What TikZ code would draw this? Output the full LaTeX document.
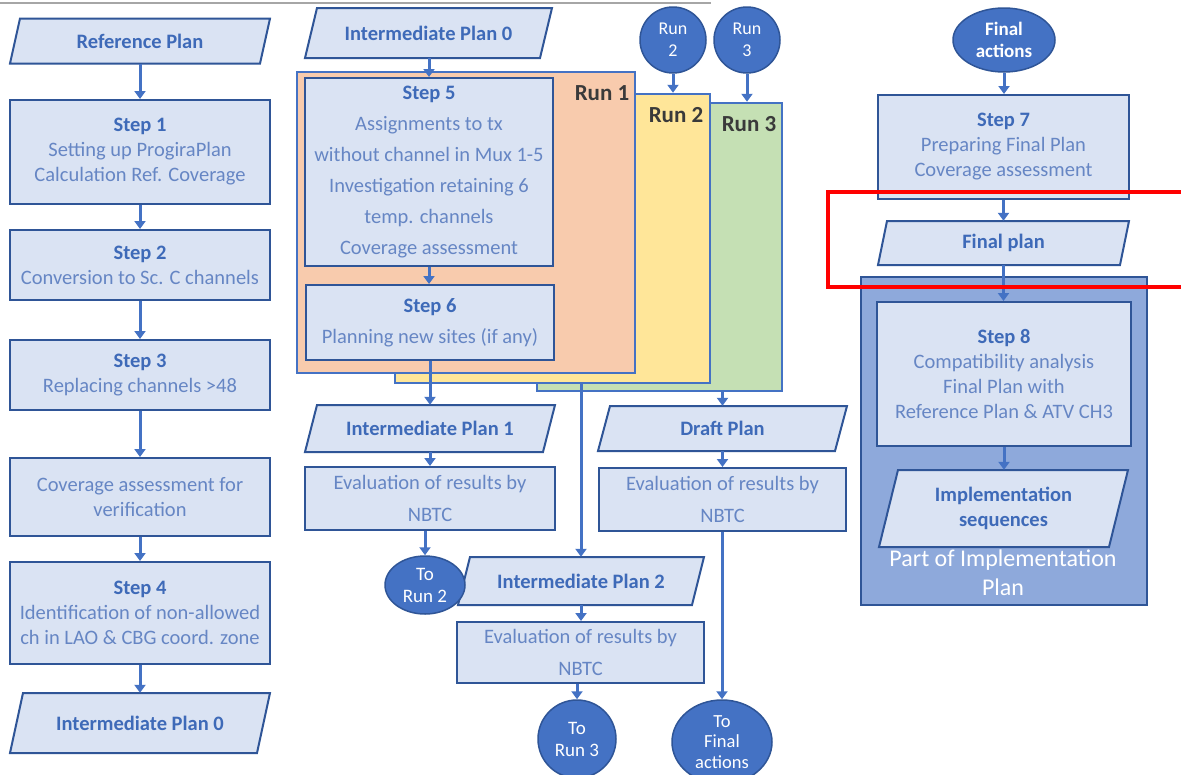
\documentclass[tikz,border=0pt]{standalone}
\usepackage{fontspec}
\setmainfont{Carlito}
\usetikzlibrary{arrows.meta,shapes.geometric}
\definecolor{boxfill}{HTML}{DAE3F3}
\definecolor{boxline}{HTML}{2F5597}
\definecolor{titlec}{HTML}{3E6AB8}
\definecolor{bodyc}{HTML}{6686C4}
\definecolor{arrowc}{HTML}{4472C4}
\definecolor{circfill}{HTML}{4472C4}
\definecolor{runone}{HTML}{F8CBAD}
\definecolor{runtwo}{HTML}{FFE699}
\definecolor{runthree}{HTML}{C5E0B4}
\definecolor{implfill}{HTML}{8EA9DB}
\definecolor{runtext}{HTML}{3A3A3A}
\newcommand{\ttl}[1]{{\bfseries\color{titlec}#1}}
\newcommand{\mypara}[7]{%
  \filldraw[parashape] ({#2-#4/2+#6},{#3-#5/2}) -- ({#2+#4/2},{#3-#5/2}) -- ({#2+#4/2-#6},{#3+#5/2}) -- ({#2-#4/2},{#3+#5/2}) -- cycle;
  \node[paratext, minimum width={#4-#6}, minimum height=#5] (#1) at (#2,#3) {#7};
}
\tikzset{
  stepbox/.style={draw=boxline, fill=boxfill, line width=2, inner sep=0, align=center, text=bodyc, font=\fontsize{20.5}{25}\selectfont},
  parashape/.style={draw=boxline, fill=boxfill, line width=2},
  paratext/.style={inner sep=0, align=center, text=titlec, font=\fontsize{20.5}{25}\selectfont\bfseries},
  runbox/.style={draw=arrowc, line width=2.5, inner sep=0},
  runlabel/.style={text=runtext, font=\fontsize{23}{26}\selectfont\bfseries, inner sep=0},
  termc/.style={circle, draw=boxline, fill=circfill, line width=1.5, inner sep=0, align=center, text=white, font=\fontsize{18}{22}\selectfont},
  terme/.style={ellipse, draw=boxline, fill=circfill, line width=1.5, inner sep=0, align=center, text=white, font=\fontsize{19}{22}\selectfont},
  flow/.style={draw=arrowc, line width=3, -{Triangle[length=8,width=11]}},
}
\begin{document}
\begin{tikzpicture}[x=1pt,y=-1pt]
\useasboundingbox (0,0) rectangle (1181,774);
\fill[white] (0,0) rectangle (1181,774);
\draw[black!35, line width=1.5] (0,3) -- (711,3);

% ---------- left column ----------
\mypara{refplan}{140}{41}{260}{45}{10}{Reference Plan}
\node[stepbox, minimum width=260, minimum height=104] (step1) at (140,152) {\ttl{Step 1}\\Setting up ProgiraPlan\\Calculation Ref. Coverage};
\node[stepbox, minimum width=260, minimum height=70] (step2) at (140,265) {\ttl{Step 2}\\Conversion to Sc. C channels};
\node[stepbox, minimum width=260, minimum height=70] (step3) at (140,375) {\ttl{Step 3}\\Replacing channels {>}48};
\node[stepbox, minimum width=260, minimum height=78] (cov) at (140,497) {Coverage assessment for\\verification};
\node[stepbox, minimum width=260, minimum height=102] (step4) at (140,613) {\ttl{Step 4}\\Identification of non-allowed\\ch in LAO \& CBG coord. zone};
\mypara{ipzerob}{140}{723}{260}{60}{13}{Intermediate Plan 0}

\draw[flow] (refplan.south) -- (step1.north);
\draw[flow] (step1.south) -- (step2.north);
\draw[flow] (step2.south) -- (step3.north);
\draw[flow] (step3.south) -- (cov.north);
\draw[flow] (cov.south) -- (step4.north);
\draw[flow] (step4.south) -- (ipzerob.north);

% ---------- middle column ----------
\node[runbox, fill=runthree, minimum width=245, minimum height=288] (r3) at (659.5,247) {};
\node[runbox, fill=runtwo, minimum width=315, minimum height=289] (r2) at (552.5,238.5) {};
\node[runbox, fill=runone, minimum width=338, minimum height=301] (r1) at (466,222.5) {};
\node[runlabel] (lab1) at (602,93) {Run 1};
\node[runlabel] (lab2) at (676,115) {Run 2};
\node[runlabel] (lab3) at (749,124) {Run 3};

\node[termc, minimum size=66] (runtwoc) at (673,40) {Run\\2};
\node[termc, minimum size=66] (runthreec) at (747,40) {Run\\3};

\mypara{ipzeroa}{428.5}{33}{247}{50}{12}{Intermediate Plan 0}
\node[stepbox, minimum width=248, minimum height=188, font=\fontsize{20.5}{31}\selectfont] (step5) at (429,172) {\ttl{Step 5}\\Assignments to tx\\without channel in Mux 1-5\\Investigation retaining 6\\temp. channels\\Coverage assessment};
\node[stepbox, minimum width=248, minimum height=75, font=\fontsize{20.5}{31}\selectfont] (step6) at (430,322.5) {\ttl{Step 6}\\Planning new sites (if any)};

\mypara{ipone}{430}{428.5}{250}{47}{12}{Intermediate Plan 1}
\node[stepbox, minimum width=250, minimum height=63, font=\fontsize{20.5}{32}\selectfont] (evone) at (430,498.5) {Evaluation of results by\\NBTC};
\mypara{iptwo}{581}{581}{246}{48}{12}{Intermediate Plan 2}
\node[stepbox, minimum width=247, minimum height=61, font=\fontsize{20.5}{32}\selectfont] (evtwo) at (580.5,652.5) {Evaluation of results by\\NBTC};
\mypara{draft}{722.5}{428.5}{249}{45}{12}{Draft Plan}
\node[stepbox, minimum width=247, minimum height=63, font=\fontsize{20.5}{32}\selectfont] (evthree) at (722.5,499.5) {Evaluation of results by\\NBTC};

\node[terme, minimum width=80, minimum height=58] (torun2) at (425,585) {To\\Run 2};
\node[termc, minimum size=78, font=\fontsize{19}{22}\selectfont] (torun3) at (577,739) {To\\Run 3};
\node[terme, minimum width=100, minimum height=84, font=\fontsize{18.5}{20.5}\selectfont] (tofinal) at (722,742) {To\\Final\\actions};

\draw[flow] (runtwoc.south) -- (runtwoc.south |- r2.north);
\draw[flow] (runthreec.south) -- (runthreec.south |- r3.north);
\draw[flow] (ipzeroa.south -| step5.north) -- (step5.north);
\draw[flow] (step5.south) -- (step5.south |- step6.north);
\draw[flow] (step6.south) -- (step6.south |- ipone.north);
\draw[flow] (iptwo.north |- r2.south) -- (iptwo.north);
\draw[flow] (draft.north |- r3.south) -- (draft.north);
\draw[flow] (ipone.south) -- (evone.north);
\draw[flow] (torun2.north |- evone.south) -- (torun2.north);
\draw[flow] (iptwo.south) -- (iptwo.south |- evtwo.north);
\draw[flow] (torun3.north |- evtwo.south) -- (torun3.north);
\draw[flow] (draft.south) -- (draft.south |- evthree.north);
\draw[flow] (tofinal.north |- evthree.south) -- (tofinal.north);

% ---------- right column ----------
\node[terme, minimum width=102, minimum height=64, font=\fontsize{19}{22}\selectfont\bfseries] (finalc) at (1004,40) {Final\\actions};
\node[stepbox, minimum width=251, minimum height=104] (step7) at (1003.5,147) {\ttl{Step 7}\\Preparing Final Plan\\Coverage assessment};
\mypara{fplan}{1003.5}{243}{251}{44}{9}{Final plan}
\node[draw=boxline, fill=implfill, line width=2, minimum width=286, minimum height=328, inner sep=0] (impl) at (1004,441) {};
\node[stepbox, minimum width=254, minimum height=144] (step8) at (1004,374) {\ttl{Step 8}\\Compatibility analysis\\Final Plan with\\Reference Plan \& ATV CH3};
\mypara{implseq}{1003.5}{508.5}{249}{77}{19}{Implementation\\sequences}
\node[text=white, align=center, inner sep=0, font=\fontsize{24}{29}\selectfont] (impllab) at (1003,573) {Part of Implementation\\Plan};

\draw[flow] (finalc.south) -- (finalc.south |- step7.north);
\draw[flow] (step7.south) -- (step7.south |- fplan.north);
\draw[flow] (fplan.south) -- (fplan.south |- step8.north);
\draw[flow] (step8.south) -- (step8.south |- implseq.north);

\draw[red, line width=4] (828,192) rectangle (1195,287);
\end{tikzpicture}
\end{document}
